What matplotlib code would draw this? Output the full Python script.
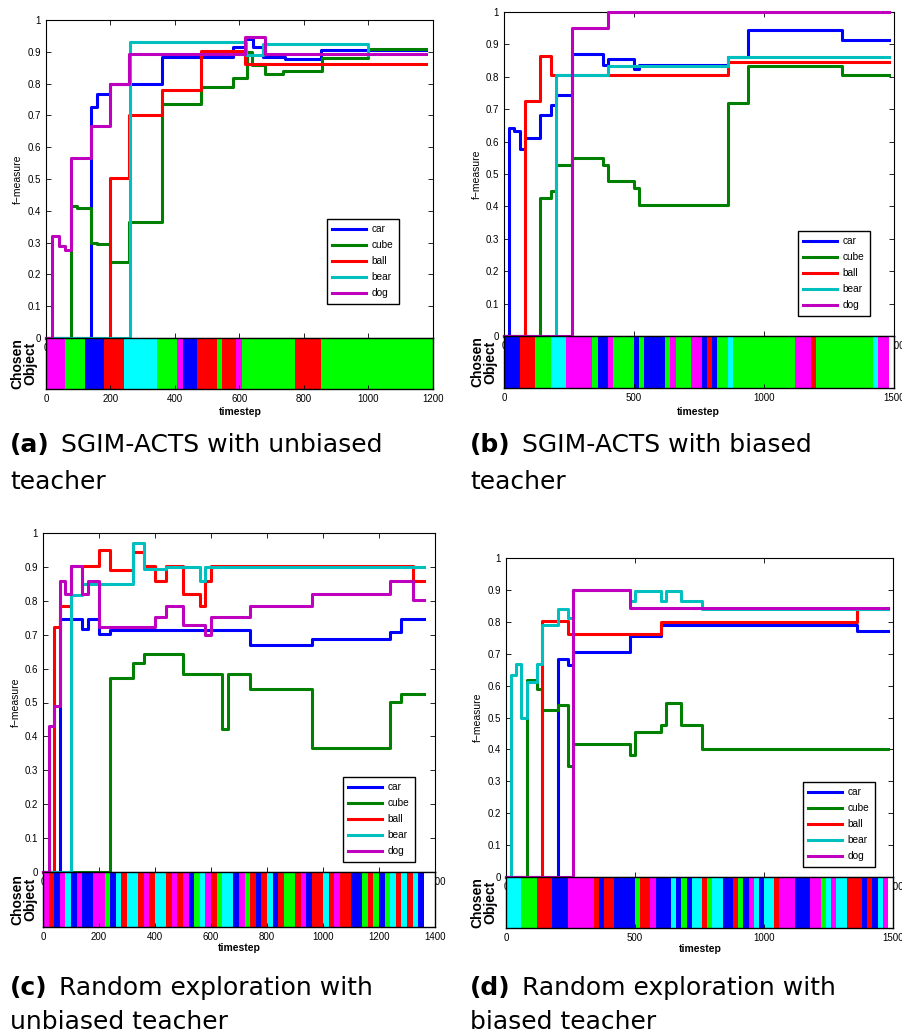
import matplotlib
matplotlib.use('Agg')
import matplotlib.pyplot as plt

plt.rcParams['font.family'] = ['Liberation Sans', 'DejaVu Sans']

W, H = 902, 1032

objects = ['car', 'cube', 'ball', 'bear', 'dog']
line_colors = ['#0000ff', '#008000', '#ff0000', '#00bfbf', '#bf00bf']
# letters used in the chosen-object strips
strip_code = {'C': '#0000ff', 'U': '#00ff00', 'B': '#ff0000', 'E': '#00ffff', 'D': '#ff00ff'}

# ---- (a) SGIM-ACTS, unbiased teacher ----
a_car_t = [0, 138, 157, 198, 258, 360, 580, 617, 642, 673, 740, 854, 1177]
a_car_f = [0, 0.726, 0.766, 0.80, 0.80, 0.885, 0.916, 0.94, 0.916, 0.885, 0.877, 0.907, 0.907]
a_cube_t = [0, 77, 95, 138, 157, 198, 258, 360, 480, 580, 622, 640, 678, 735, 857, 1000, 1177]
a_cube_f = [0, 0.416, 0.41, 0.30, 0.295, 0.24, 0.366, 0.736, 0.788, 0.819, 0.90, 0.86, 0.83, 0.84, 0.88, 0.908, 0.908]
a_ball_t = [0, 198, 258, 360, 480, 617, 1177]
a_ball_f = [0, 0.503, 0.70, 0.78, 0.903, 0.861, 0.861]
a_bear_t = [0, 260, 620, 673, 1000, 1000]
a_bear_f = [0, 0.932, 0.89, 0.926, 0.89, 0.89]
a_dog_t = [0, 18, 40, 59, 77, 138, 198, 258, 617, 678, 1177]
a_dog_f = [0, 0.321, 0.29, 0.277, 0.565, 0.668, 0.80, 0.892, 0.945, 0.892, 0.892]
a_strip_ends = [59, 121, 181, 242, 345, 405, 425, 467, 529, 547, 589, 609, 773, 854, 1200]
a_strip_objs = 'D U C B E U D C B U B D U B U'.split()

# ---- (b) SGIM-ACTS, biased teacher ----
b_car_t = [0, 20, 40, 60, 80, 140, 180, 200, 260, 380, 400, 500, 520, 860, 940, 1300, 1480]
b_car_f = [0, 0.643, 0.633, 0.578, 0.612, 0.683, 0.712, 0.743, 0.869, 0.835, 0.854, 0.825, 0.835, 0.861, 0.943, 0.913, 0.913]
b_cube_t = [0, 140, 180, 200, 260, 380, 400, 500, 520, 860, 940, 1300, 1480]
b_cube_f = [0, 0.427, 0.447, 0.527, 0.55, 0.527, 0.478, 0.457, 0.403, 0.719, 0.832, 0.805, 0.805]
b_ball_t = [0, 80, 140, 180, 860, 1480]
b_ball_f = [0, 0.724, 0.863, 0.805, 0.846, 0.846]
b_bear_t = [0, 200, 400, 860, 1480]
b_bear_f = [0, 0.805, 0.832, 0.861, 0.861]
b_dog_t = [0, 260, 400, 1480]
b_dog_f = [0, 0.952, 1.0, 1.0]
b_strip_ends = [60, 120, 180, 240, 340, 360, 400, 420, 500, 520, 540, 620, 640, 660, 720, 760,
                780, 800, 820, 860, 880, 1120, 1180, 1200, 1420, 1440, 1480]
b_strip_objs = 'C B U E D U C D U C U C U D U D C B C U E U D B U E D'.split()

# ---- (c) random exploration, unbiased teacher ----
c_car_t = [0, 60, 140, 160, 200, 240, 740, 960, 1240, 1280, 1360]
c_car_f = [0, 0.747, 0.717, 0.747, 0.702, 0.713, 0.669, 0.687, 0.708, 0.746, 0.746]
c_cube_t = [0, 240, 320, 360, 500, 640, 660, 740, 960, 1240, 1280, 1360]
c_cube_f = [0, 0.572, 0.617, 0.643, 0.584, 0.422, 0.584, 0.541, 0.366, 0.501, 0.525, 0.525]
c_ball_t = [0, 40, 60, 100, 200, 240, 320, 360, 400, 440, 500, 560, 580, 600, 1320, 1360]
c_ball_f = [0, 0.723, 0.786, 0.902, 0.951, 0.892, 0.944, 0.902, 0.859, 0.902, 0.82, 0.784, 0.859, 0.902, 0.859, 0.859]
c_bear_t = [0, 100, 140, 320, 360, 440, 560, 580, 1360]
c_bear_f = [0, 0.816, 0.85, 0.97, 0.894, 0.90, 0.859, 0.90, 0.90]
c_dog_t = [0, 20, 40, 60, 80, 100, 140, 160, 200, 400, 440, 500, 580, 600, 740, 960, 1240, 1320, 1360]
c_dog_f = [0, 0.432, 0.49, 0.859, 0.821, 0.902, 0.821, 0.859, 0.723, 0.752, 0.786, 0.73, 0.698, 0.752,
           0.786, 0.821, 0.859, 0.801, 0.801]
c_strip_ends = [20, 40, 60, 80, 100, 120, 140, 180, 220, 240, 260, 280, 300, 340, 360, 380, 400, 440,
                460, 480, 500, 520, 540, 560, 580, 600, 620, 640, 680, 700, 720, 740, 760, 780, 800,
                820, 840, 860, 900, 920, 940, 960, 1000, 1020, 1040, 1060, 1100, 1140, 1160, 1180,
                1200, 1220, 1240, 1260, 1280, 1300, 1320, 1340, 1360]
c_strip_objs = ('D B C D E C D C D U C E B E B D B E B D B D C U E D B U E C D U B C B E C B U B D C '
                'B E B D B C U B U C U E B E B E C').split()

# ---- (d) random exploration, biased teacher ----
d_car_t = [0, 200, 240, 260, 480, 600, 1360, 1480]
d_car_f = [0, 0.684, 0.666, 0.705, 0.757, 0.789, 0.772, 0.772]
d_cube_t = [0, 80, 120, 140, 200, 240, 260, 480, 500, 600, 620, 680, 760, 1480]
d_cube_f = [0, 0.617, 0.59, 0.522, 0.54, 0.347, 0.417, 0.381, 0.456, 0.476, 0.545, 0.476, 0.401, 0.401]
d_ball_t = [0, 140, 240, 600, 1360, 1480]
d_ball_f = [0, 0.801, 0.762, 0.80, 0.841, 0.841]
d_bear_t = [0, 20, 40, 60, 80, 120, 140, 200, 240, 260, 480, 500, 600, 620, 680, 760, 1480]
d_bear_f = [0, 0.632, 0.667, 0.50, 0.611, 0.667, 0.789, 0.84, 0.812, 0.899, 0.866, 0.897, 0.866,
            0.897, 0.866, 0.84, 0.84]
d_dog_t = [0, 260, 480, 1480]
d_dog_f = [0, 0.899, 0.843, 0.843]
d_strip_ends = [60, 120, 180, 240, 340, 360, 380, 420, 500, 520, 560, 580, 640, 660, 680, 700, 720,
                760, 780, 800, 840, 880, 900, 920, 940, 960, 980, 1000, 1040, 1060, 1120, 1180, 1220,
                1240, 1260, 1280, 1320, 1380, 1400, 1420, 1440, 1460, 1480]
d_strip_objs = ('E U B C D B C B C U B D C E C U C E B U E C B U C D E C E B D C D U E D E B C B C '
                'E D').split()

fig = plt.figure(figsize=(W / 100, H / 100), dpi=100)


def px_box(x0, y0, x1, y1):
    return [x0 / W, 1 - y1 / H, (x1 - x0) / W, (y1 - y0) / H]


def draw_panel(main_px, strip_bottom, xmax, xstep, series, strip_ends, strip_objs,
               legend_px, flab_x, chosen_x, ts_xy, last_top_label=True):
    x0, y0, x1, y1 = main_px
    ax = fig.add_axes(px_box(x0, y0, x1, y1))
    for (t, f), name, col in zip(series, objects, line_colors):
        ax.step(t, f, where='post', color=col, lw=2.2, label=name, clip_on=False, zorder=3)
    ax.set_xlim(0, xmax)
    ax.set_ylim(0, 1)
    ax.set_yticks([i / 10 for i in range(11)])
    ax.set_yticklabels(['0'] + ['0.%d' % i for i in range(1, 10)] + ['1'])
    xt = list(range(0, xmax + 1, xstep))
    ax.set_xticks(xt)
    labels = [str(v) for v in xt]
    if not last_top_label:
        labels[-1] = ''
    ax.set_xticklabels(labels)
    ax.tick_params(direction='in', top=True, right=True, length=3.5, width=0.6,
                   labelsize=7, pad=3.5)
    for sp in ax.spines.values():
        sp.set_linewidth(0.8)
    leg = ax.legend(loc='lower right', bbox_to_anchor=(legend_px[0] / W, 1 - legend_px[1] / H),
                    bbox_transform=fig.transFigure, fontsize=7.3, handlelength=3.3,
                    handletextpad=0.6, borderpad=0.55, labelspacing=0.6, borderaxespad=0,
                    fancybox=False, framealpha=1, edgecolor='black')
    leg.get_frame().set_linewidth(1.0)
    leg.set_zorder(5)

    sx = fig.add_axes(px_box(x0, y1, x1, strip_bottom))
    starts = [0] + strip_ends[:-1]
    widths = [e - s for s, e in zip(starts, strip_ends)]
    sx.bar(starts, [1] * len(starts), width=widths, align='edge',
           color=[strip_code[o] for o in strip_objs], linewidth=0, antialiased=False)
    sx.set_xlim(0, xmax)
    sx.set_ylim(0, 1)
    sx.set_yticks([])
    sx.set_xticks(xt)
    sx.tick_params(direction='in', length=3, width=0.6, labelsize=7, pad=3.5)
    for sp in sx.spines.values():
        sp.set_linewidth(1.0)

    fig.text(flab_x / W, 1 - (y0 + y1) / 2 / H, 'f\u2212measure', rotation=90,
             ha='center', va='center', fontsize=7.5)
    fig.text(chosen_x / W, 1 - (y1 + strip_bottom) / 2 / H, 'Chosen\nObject', rotation=90,
             ha='center', va='center', fontsize=10, fontweight='bold', linespacing=0.95)
    fig.text(ts_xy[0] / W, 1 - ts_xy[1] / H, 'timestep', ha='center', va='center',
             fontsize=7.5, fontweight='bold')


draw_panel((46, 20, 433, 338), 389, 1200, 200,
           [(a_car_t, a_car_f), (a_cube_t, a_cube_f), (a_ball_t, a_ball_f),
            (a_bear_t, a_bear_f), (a_dog_t, a_dog_f)],
           a_strip_ends, a_strip_objs, (399, 304), 18, 24, (240, 412), last_top_label=False)
draw_panel((504, 12, 894, 336), 388, 1500, 500,
           [(b_car_t, b_car_f), (b_cube_t, b_cube_f), (b_ball_t, b_ball_f),
            (b_bear_t, b_bear_f), (b_dog_t, b_dog_f)],
           b_strip_ends, b_strip_objs, (870, 316), 477, 484, (698, 412))
draw_panel((43, 533, 435, 872), 927, 1400, 200,
           [(c_car_t, c_car_f), (c_cube_t, c_cube_f), (c_ball_t, c_ball_f),
            (c_bear_t, c_bear_f), (c_dog_t, c_dog_f)],
           c_strip_ends, c_strip_objs, (415, 862), 16, 24, (239, 948))
draw_panel((506, 558, 893, 877), 928, 1500, 500,
           [(d_car_t, d_car_f), (d_cube_t, d_cube_f), (d_ball_t, d_ball_f),
            (d_bear_t, d_bear_f), (d_dog_t, d_dog_f)],
           d_strip_ends, d_strip_objs, (875, 867), 478, 484, (700, 949))

# captions below each panel
captions = [
    ('(a)', 'SGIM-ACTS with unbiased', 'teacher', 10, 452, 489),
    ('(b)', 'SGIM-ACTS with biased', 'teacher', 470, 452, 489),
    ('(c)', 'Random exploration with', 'unbiased teacher', 10, 995, 1029),
    ('(d)', 'Random exploration with', 'biased teacher', 470, 995, 1029),
]
renderer = fig.canvas.get_renderer()
for tag, line1, line2, x, y1, y2 in captions:
    t = fig.text(x / W, 1 - y1 / H, tag, fontsize=18, fontweight='bold',
                 family='DejaVu Sans', va='baseline')
    bb = t.get_window_extent(renderer=renderer)
    fig.text((bb.x1 + 11) / W, 1 - y1 / H, line1, fontsize=18, family='DejaVu Sans',
             va='baseline')
    fig.text(x / W, 1 - y2 / H, line2, fontsize=18, family='DejaVu Sans', va='baseline')

fig.savefig('out.png', dpi=100)
